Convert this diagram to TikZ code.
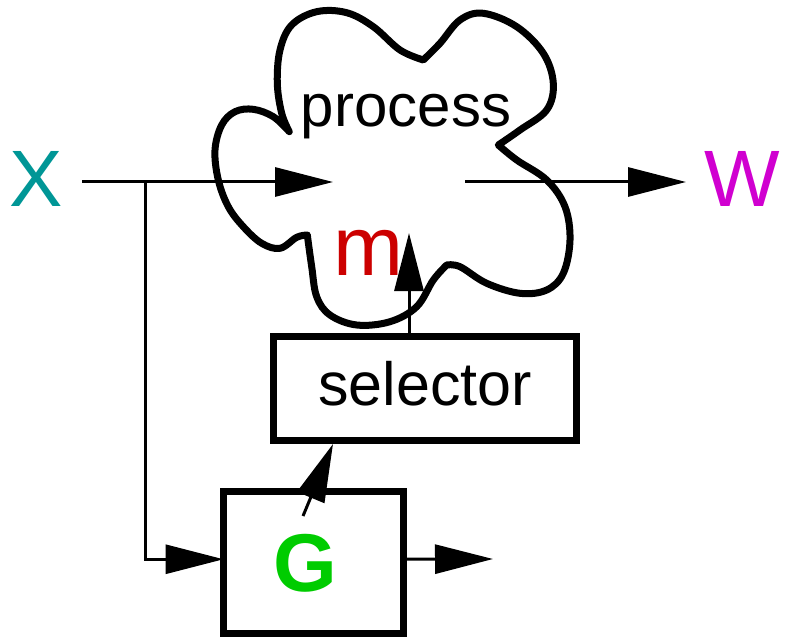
\documentclass[tikz,border=0pt]{standalone}
\usepackage{fontspec}
\setmainfont{Liberation Sans}
\usetikzlibrary{arrows.meta}
\definecolor{xteal}{RGB}{0,150,150}
\definecolor{wmag}{RGB}{208,0,208}
\definecolor{mred}{RGB}{204,0,0}
\definecolor{ggreen}{RGB}{0,204,0}
% label text at a given size: {size}{text}
\newcommand\lbltext[2]{{\fontsize{#1}{#1}\selectfont #2}}
\begin{document}
\begin{tikzpicture}[x=1pt,y=-1pt,
  wire/.style={line width=3pt},
  arr/.style={-{Triangle[length=58pt,width=29pt]}},
  box/.style={draw,line width=7pt,inner sep=0pt,outer sep=0pt,rectangle},
  cloudline/.style={line width=7pt,line join=round,line cap=round},
  lbl/.style={inner sep=0pt,anchor=base}]
\useasboundingbox (0,0) rectangle (789,639);

% the process cloud, one smooth lobe between each pair of cusps
\draw[cloudline]
  plot[smooth,tension=0.6] coordinates {(289.3,131.7) (281.7,113.3) (277.3,83.3) (280,50) (291.7,25) (316.7,11.7) (346.7,12.7) (373.3,26.7) (400,50) (423.3,60)}
  -- plot[smooth,tension=0.6] coordinates {(423.3,60) (440,43.3) (460,20) (483.3,13.3) (516.7,26.7) (543.3,53.3) (553.3,83.3) (546.7,110) (520,130) (498.3,145)}
  -- plot[smooth,tension=0.6] coordinates {(498.3,145) (516.7,160) (546.7,180) (565,206.7) (570,240) (563.3,273.3) (546.7,290) (520,293.3) (486.7,283.3) (460,266.7) (446.7,265)}
  -- plot[smooth,tension=0.6] coordinates {(446.7,265) (433.3,280) (416.7,306.7) (390,321.7) (356.7,325) (330,315) (316.7,296.7) (311.7,266.7) (307.3,235)}
  -- plot[smooth,tension=0.6] coordinates {(307.3,235) (296.7,237.3) (280,248.3) (261.7,243.3) (243.3,226.7) (228.3,206.7) (218.3,180) (215,150) (221.7,125) (235,111.7) (253.3,109.3) (273.3,116.7) (289.3,131.7)}
  -- cycle;

% labels
\node[lbl] (proc) at (406,127) {\lbltext{60}{process}};
\node[lbl,text=mred] (mlab) at (368,275) {\lbltext{84}{m}};
\node[lbl,text=xteal] (xlab) at (36,206) {\lbltext{80}{X}};
\node[lbl,text=wmag] (wlab) at (742,206) {\lbltext{80}{W}};

% boxes
\node[box,minimum width=302.5pt,minimum height=103.3pt] (sel) at (424.75,388.35) {};
\node[lbl] (sellab) at (425,405.5) {\lbltext{61}{selector}};
\node[box,minimum width=179.5pt,minimum height=141.5pt] (gbox) at (313.25,562.25) {};
\node[lbl,text=ggreen] (glab) at (305,591) {\lbltext{82}{\bfseries G}};

% connector ends
\coordinate (xin) at (82,182);
\coordinate (procin) at (333,182);
\coordinate (procout) at (465,182);
\coordinate (wout) at (686,182);
\coordinate (branch) at (145,182);
\coordinate (mtip) at (409,233);
\coordinate (gsrc) at (303,516);
\coordinate (seltip) at (333,444);
\coordinate (gout) at (493,559);

% connectors
\draw[wire,arr] (xin) -- (procin);
\draw[wire,arr] (procout) -- (wout);
\draw[wire,arr] (branch) |- ([yshift=3pt]gbox.west);
\draw[wire,arr] ([yshift=3pt]gbox.east) -- (gout);
\draw[wire,arr] (sel.north -| mtip) -- (mtip);
\draw[wire,arr] (gsrc) -- (seltip);
\end{tikzpicture}
\end{document}
